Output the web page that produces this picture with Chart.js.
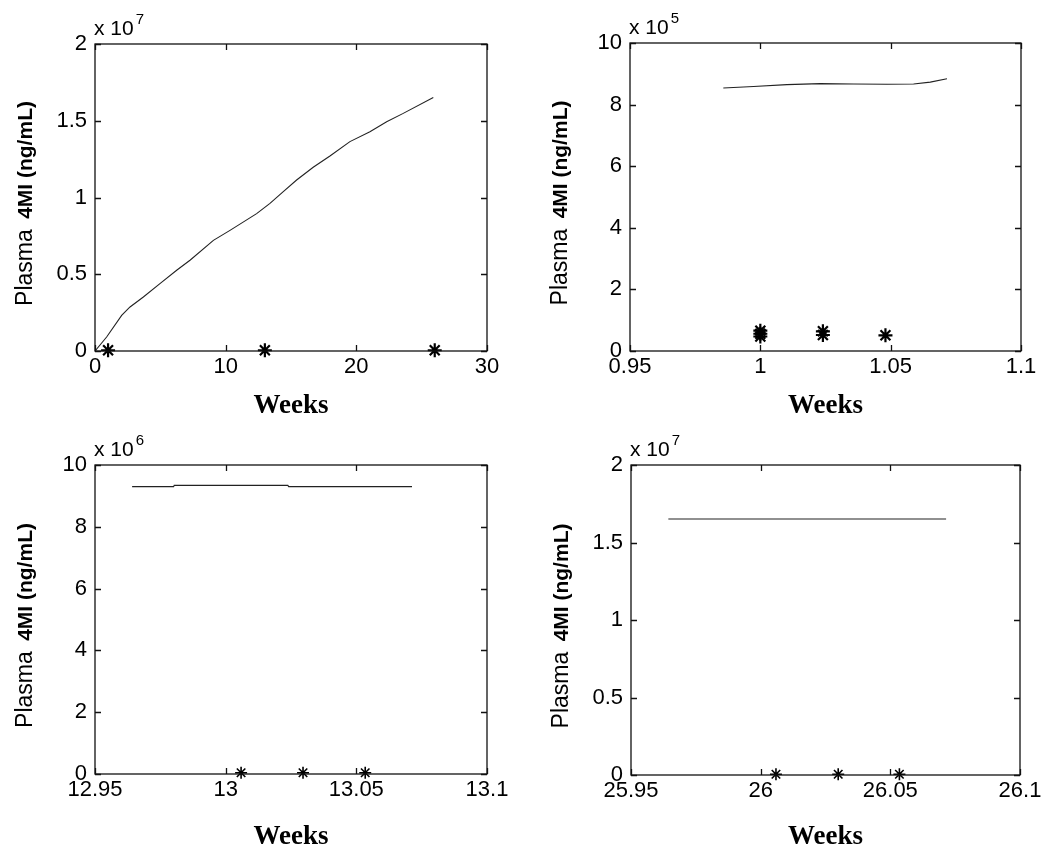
<!DOCTYPE html>
<html>
<head>
<meta charset="utf-8">
<title>Plasma 4MI</title>
<script src="https://cdn.jsdelivr.net/npm/chart.js@4.4.1/dist/chart.umd.min.js"></script>
<style>
  body { margin: 0; background: #fff; }
  #wrap { position: relative; width: 1047px; height: 851px; }
  canvas { position: absolute; }
</style>
</head>
<body>
<div id="wrap">
  <canvas id="p1" width="520" height="420" style="left:0;top:0"></canvas>
  <canvas id="p2" width="527" height="420" style="left:520px;top:0"></canvas>
  <canvas id="p3" width="520" height="431" style="left:0;top:420px"></canvas>
  <canvas id="p4" width="527" height="431" style="left:520px;top:420px"></canvas>
</div>
<script>
// panel 1: whole study, 0-26 weeks
const p1Weeks = [0, 0.89, 2.04, 2.68, 3.70, 4.97, 6.25, 7.27, 9.06, 10.33, 12.37, 13.39, 14.41, 15.43, 16.70, 17.98, 19.51, 21.04, 22.32, 23.59, 25.89];
const p1Conc = [0, 910000, 2320000, 2870000, 3520000, 4390000, 5260000, 5910000, 7210000, 7860000, 8950000, 9620000, 10380000, 11140000, 11970000, 12700000, 13640000, 14290000, 14940000, 15480000, 16520000];
const p1ObsWeeks = [1, 13, 26];
const p1ObsConc = [50000, 50000, 50000];

// panel 2: around week 1
const p2Weeks = [0.9858, 0.9974, 1.0102, 1.023, 1.0358, 1.0486, 1.0588, 1.0652, 1.0716];
const p2Conc = [854000, 859000, 865000, 868000, 867000, 866000, 867000, 873000, 884000];
const p2ObsWeeks = [1.0, 1.0, 1.0, 1.024, 1.024, 1.048];
const p2ObsConc = [66000, 56000, 47000, 64000, 52000, 51000];

// panel 3: around week 13
const p3Weeks = [12.9642, 12.9801, 12.9803, 13.0238, 13.0241, 13.0713];
const p3Conc = [9300000, 9300000, 9340000, 9340000, 9300000, 9300000];
const p3ObsWeeks = [13.0059, 13.0296, 13.0534];
const p3ObsConc = [40000, 40000, 40000];

// panel 4: around week 26
const p4Weeks = [25.9644, 26.0, 26.03, 26.0715];
const p4Conc = [16520000, 16520000, 16520000, 16520000];
const p4ObsWeeks = [26.0059, 26.0299, 26.0535];
const p4ObsConc = [50000, 50000, 50000];

// tick labels
const p1XTicks = [0, 10, 20, 30];
const p1YTicks = [0, 0.5, 1, 1.5, 2];
const p2XTicks = [0.95, 1, 1.05, 1.1];
const p2YTicks = [0, 2, 4, 6, 8, 10];
const p3XTicks = [12.95, 13, 13.05, 13.1];
const p3YTicks = [0, 2, 4, 6, 8, 10];
const p4XTicks = [25.95, 26, 26.05, 26.1];
const p4YTicks = [0, 0.5, 1, 1.5, 2];

Chart.defaults.font.family = "'Liberation Sans', Arial, sans-serif";
Chart.defaults.color = "#000";

// box, inward ticks, exponent and the mixed-font y title
const axisDeco = {
  id: "axisDeco",
  afterDraw(chart, args, opts) {
    const { ctx, chartArea: a, scales } = chart;
    ctx.save();
    ctx.strokeStyle = "#111";
    ctx.lineWidth = 1.3;
    ctx.strokeRect(a.left, a.top, a.right - a.left, a.bottom - a.top);
    ctx.beginPath();
    scales.x.ticks.forEach((t) => {
      const px = Math.round(scales.x.getPixelForValue(t.value)) + 0.5;
      ctx.moveTo(px, a.bottom); ctx.lineTo(px, a.bottom - 6);
      ctx.moveTo(px, a.top); ctx.lineTo(px, a.top + 6);
    });
    scales.y.ticks.forEach((t) => {
      const py = Math.round(scales.y.getPixelForValue(t.value)) + 0.5;
      ctx.moveTo(a.left, py); ctx.lineTo(a.left + 6, py);
      ctx.moveTo(a.right, py); ctx.lineTo(a.right - 6, py);
    });
    ctx.stroke();

    ctx.fillStyle = "#000";
    ctx.textBaseline = "alphabetic";
    ctx.font = "21px 'Liberation Sans', Arial";
    ctx.fillText("x 10", a.left - 1, a.top - 9);
    const w = ctx.measureText("x 10").width;
    ctx.font = "15px 'Liberation Sans', Arial";
    ctx.fillText(String(opts.exp), a.left + w + 1, a.top - 20);

    const parts = [
      ["Plasma ", "23px 'Liberation Sans', Arial", 4],
      ["4MI (ng/mL)", "bold 21px 'Liberation Sans', Arial", 0],
    ];
    let total = 0;
    parts.forEach(([s, f, gap]) => { ctx.font = f; total += ctx.measureText(s).width + gap; });
    ctx.translate(a.left - 63, (a.top + a.bottom) / 2 + 6);
    ctx.rotate(-Math.PI / 2);
    let x = -total / 2;
    parts.forEach(([s, f, gap]) => {
      ctx.font = f;
      ctx.fillText(s, x, 0);
      x += ctx.measureText(s).width + gap;
    });
    ctx.restore();
  },
};

function makePanel(id, area, weeks, conc, obsWeeks, obsConc, xTicks, yTicks, exp, starSize) {
  const canvas = document.getElementById(id);
  const W = canvas.width, H = canvas.height;
  const scaleY = Math.pow(10, exp);
  return new Chart(canvas, {
    type: "line",
    data: {
      datasets: [
        {
          data: weeks.map((w, i) => ({ x: w, y: conc[i] })),
          borderColor: "#222",
          borderWidth: 1.1,
          pointRadius: 0,
          tension: 0,
        },
        {
          data: obsWeeks.map((w, i) => ({ x: w, y: obsConc[i] })),
          showLine: false,
          pointStyle: "star",
          pointRadius: starSize,
          borderColor: "#000",
          backgroundColor: "#000",
          pointBorderWidth: starSize > 6 ? 2.2 : 1.6,
          clip: false,
        },
      ],
    },
    options: {
      responsive: false,
      animation: false,
      layout: { padding: { left: 0, top: area.top, right: W - area.right, bottom: 0 } },
      plugins: { legend: { display: false }, tooltip: { enabled: false }, axisDeco: { exp: exp } },
      scales: {
        x: {
          type: "linear",
          min: xTicks[0],
          max: xTicks[xTicks.length - 1],
          afterBuildTicks: (s) => { s.ticks = xTicks.map((v) => ({ value: v })); },
          afterFit: (s) => { s.height = H - area.bottom; },
          grid: { display: false, drawTicks: false },
          border: { display: false },
          ticks: {
            font: { size: 22 },
            padding: 3,
            maxRotation: 0,
            autoSkip: false,
            callback: (v) => String(+v.toFixed(4)),
          },
          title: {
            display: true,
            text: "Weeks",
            font: { family: "'Liberation Serif', 'Times New Roman', serif", size: 27, weight: "bold", lineHeight: 1 },
            padding: { top: 0, bottom: 0 },
          },
        },
        y: {
          min: 0,
          max: yTicks[yTicks.length - 1] * scaleY,
          afterBuildTicks: (s) => { s.ticks = yTicks.map((v) => ({ value: v * scaleY })); },
          afterFit: (s) => { s.width = area.left; },
          grid: { display: false, drawTicks: false },
          border: { display: false },
          ticks: {
            font: { size: 22 },
            padding: 8,
            callback: (v) => String(+(v / scaleY).toFixed(3)),
          },
        },
      },
    },
    plugins: [axisDeco],
  });
}

makePanel("p1", { left: 95, top: 44, right: 487, bottom: 351 }, p1Weeks, p1Conc, p1ObsWeeks, p1ObsConc, p1XTicks, p1YTicks, 7, 7);
makePanel("p2", { left: 110, top: 43, right: 501, bottom: 351 }, p2Weeks, p2Conc, p2ObsWeeks, p2ObsConc, p2XTicks, p2YTicks, 5, 7);
makePanel("p3", { left: 95, top: 45, right: 487, bottom: 354 }, p3Weeks, p3Conc, p3ObsWeeks, p3ObsConc, p3XTicks, p3YTicks, 6, 6);
makePanel("p4", { left: 111, top: 45, right: 500, bottom: 355 }, p4Weeks, p4Conc, p4ObsWeeks, p4ObsConc, p4XTicks, p4YTicks, 7, 6);
</script>
</body>
</html>
